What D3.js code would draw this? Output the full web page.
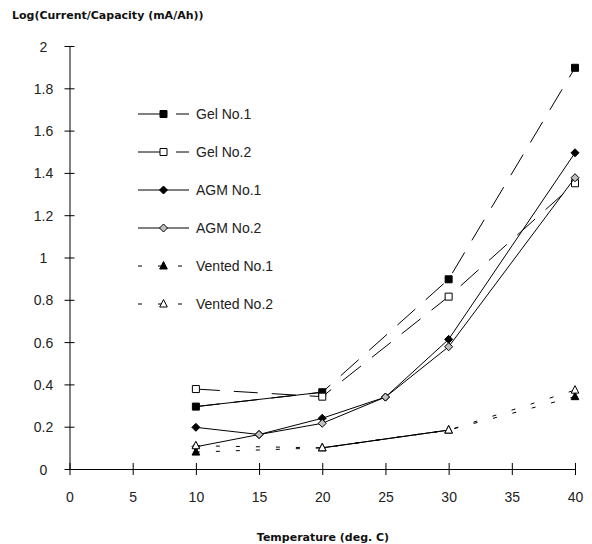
<!DOCTYPE html>
<html>
<head>
<meta charset="utf-8">
<script src="https://cdn.jsdelivr.net/npm/d3@7"></script>
<style>
  body { margin: 0; background: #fff; }
  text { font-family: "Liberation Sans", Arial, sans-serif; fill: #222; }
  .titulo { font-family: "DejaVu Sans", sans-serif; font-weight: bold; font-size: 11px; fill: #111; }
</style>
</head>
<body>
<script>
// temperatures (deg. C)
var tempsGel = [10, 20, 30, 40]
var tempsAgm = [10, 15, 20, 25, 30, 40]
var tempsVented = [10, 20, 30, 40]

// log(current/capacity)
var gel1 = [0.295, 0.363, 0.897, 1.897]
var gel2 = [0.378, 0.342, 0.815, 1.351]
var agm1 = [0.197, 0.163, 0.240, 0.340, 0.613, 1.495]
var agm2 = [0.105, 0.163, 0.216, 0.340, 0.578, 1.377]
var vented1 = [0.080, 0.100, 0.184, 0.342]
var vented2 = [0.110, 0.100, 0.184, 0.373]

var seriesNames = ["Gel No.1", "Gel No.2", "AGM No.1", "AGM No.2", "Vented No.1", "Vented No.2"]
var xTicks = [0, 5, 10, 15, 20, 25, 30, 35, 40]
var yTicks = [0, 0.2, 0.4, 0.6, 0.8, 1, 1.2, 1.4, 1.6, 1.8, 2]

var width = 592
var height = 544

var escalaX = d3.scaleLinear().domain([0, 40]).range([69.5, 575])
var escalaY = d3.scaleLinear().domain([0, 2]).range([469, 46])

// marker shapes
var cuadrado = { draw: function(ctx, s) { var r = 3.5; ctx.rect(-r, -r, 2 * r, 2 * r) } }
var rombo = { draw: function(ctx, s) { var r = 4; ctx.moveTo(0, -r); ctx.lineTo(r, 0); ctx.lineTo(0, r); ctx.lineTo(-r, 0); ctx.closePath() } }
var triangulo = { draw: function(ctx, s) { ctx.moveTo(0, -4.5); ctx.lineTo(3.8, 3); ctx.lineTo(-3.8, 3); ctx.closePath() } }

var series = [
  { nombre: seriesNames[0], x: tempsGel, y: gel1, tipo: cuadrado, relleno: "#000", dash: "24,14", solidos: [0] },
  { nombre: seriesNames[1], x: tempsGel, y: gel2, tipo: cuadrado, relleno: "#fff", dash: "24,14", solidos: [] },
  { nombre: seriesNames[2], x: tempsAgm, y: agm1, tipo: rombo, relleno: "#000", dash: null, solidos: [] },
  { nombre: seriesNames[3], x: tempsAgm, y: agm2, tipo: rombo, relleno: "#c0c0c0", dash: null, solidos: [] },
  { nombre: seriesNames[4], x: tempsVented, y: vented1, tipo: triangulo, relleno: "#000", dash: "4,16", solidos: [1] },
  { nombre: seriesNames[5], x: tempsVented, y: vented2, tipo: triangulo, relleno: "#fff", dash: "4,16", solidos: [1] }
]

var svg = d3.select("body").append("svg")
  .attr("width", width)
  .attr("height", height)

// axes
var ejeY = d3.axisLeft(escalaY).tickValues(yTicks).tickSizeOuter(0).tickFormat(d3.format("~g"))
var gY = svg.append("g")
  .attr("transform", "translate(" + escalaX(0) + ",0)")
  .call(ejeY)
gY.selectAll(".tick line").attr("x1", -5).attr("x2", 5).attr("stroke", "#000")
gY.selectAll(".tick text")
  .attr("x", -26).attr("dy", "0.36em")
  .attr("text-anchor", "middle")
  .style("font-size", "14px")

var ejeX = d3.axisBottom(escalaX).tickValues(xTicks).tickSizeOuter(0)
var gX = svg.append("g")
  .attr("transform", "translate(0," + escalaY(0) + ")")
  .call(ejeX)
gX.selectAll(".tick line").attr("y1", -6).attr("y2", 6).attr("stroke", "#000")
gX.selectAll(".tick text")
  .attr("y", 33).attr("dy", 0)
  .style("font-size", "14px")

svg.selectAll(".domain").attr("stroke", "#000")
svg.selectAll(".tick text").attr("fill", "#222").style("font-family", "'Liberation Sans', Arial, sans-serif")

// titles
svg.append("text")
  .attr("class", "titulo")
  .attr("x", 12).attr("y", 19)
  .text("Log(Current/Capacity (mA/Ah))")

svg.append("text")
  .attr("class", "titulo")
  .attr("x", 323).attr("y", 541)
  .attr("text-anchor", "middle")
  .text("Temperature (deg. C)")

// lines and markers
var linea = d3.line()
  .x(function(d) { return escalaX(d[0]) })
  .y(function(d) { return escalaY(d[1]) })

series.forEach(function(s) {
  var puntos = s.x.map(function(t, i) { return [t, s.y[i]] })
  var g = svg.append("g")
  g.append("path")
    .datum(puntos)
    .attr("fill", "none")
    .attr("stroke", "#000")
    .attr("stroke-width", 1)
    .attr("stroke-dasharray", s.dash)
    .attr("d", linea)
  s.solidos.forEach(function(i) {
    g.append("path")
      .datum(puntos.slice(i, i + 2))
      .attr("fill", "none")
      .attr("stroke", "#000")
      .attr("stroke-width", 1)
      .attr("d", linea)
  })
  g.selectAll("path.marca")
    .data(puntos)
    .enter()
    .append("path")
      .attr("class", "marca")
      .attr("transform", function(d) { return "translate(" + escalaX(d[0]) + "," + escalaY(d[1]) + ")" })
      .attr("d", d3.symbol().type(s.tipo))
      .attr("fill", s.relleno)
      .attr("stroke", "#000")
      .attr("stroke-width", 1)
})

// legend
var leyenda = svg.append("g")
  .selectAll("g")
  .data(series)
  .enter()
  .append("g")
    .attr("transform", function(d, i) { return "translate(0," + (114 + i * 38) + ")" })

leyenda.append("line")
  .attr("x1", 138).attr("x2", 189)
  .attr("stroke", "#000")
  .attr("stroke-width", 1)
  .attr("stroke-dasharray", function(d) { return d.dash })

leyenda.append("path")
  .attr("transform", "translate(163.5,0)")
  .attr("d", function(d) { return d3.symbol().type(d.tipo)() })
  .attr("fill", function(d) { return d.relleno })
  .attr("stroke", "#000")

leyenda.append("text")
  .attr("x", 196).attr("y", 5)
  .style("font-size", "14px")
  .text(function(d) { return d.nombre })
</script>
</body>
</html>
